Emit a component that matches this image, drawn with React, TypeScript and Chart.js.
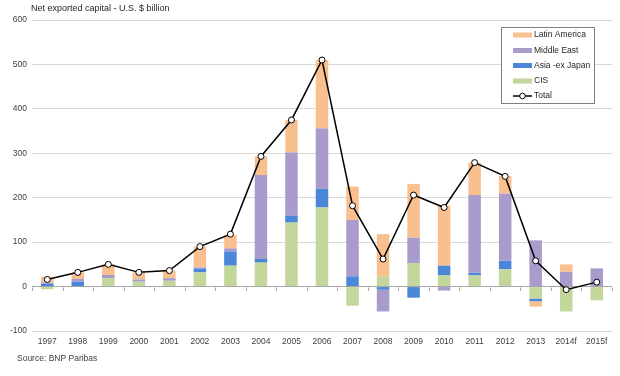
import React, { useEffect, useRef } from "react";
import { Chart, registerables } from "chart.js";

Chart.register(...registerables);

const years = ["1997","1998","1999","2000","2001","2002","2003","2004","2005","2006","2007","2008","2009","2010","2011","2012","2013","2014f","2015f"];
const cis = [-6, 0, 19, 11, 13, 32, 47, 54, 144, 178, -43, 23, 53, 25, 25, 39, -27, -56, -31];
const asiaExJapan = [6, 11, 0, 0, 0, 9, 32, 8, 15, 42, 23, -7, -25, 22, 6, 19, -6, 0, 0];
const middleEast = [3, 6, 7, 5, 6, 2, 7, 189, 143, 136, 127, -49, 57, -9, 175, 151, 104, 33, 41];
const latinAmerica = [13, 15, 24, 16, 17, 47, 30, 42, 73, 154, 75, 95, 121, 135, 73, 40, -12, 17, 0];
const total = [16, 32, 50, 32, 36, 90, 118, 293, 375, 510, 182, 62, 206, 178, 279, 248, 58, -7, 10];
const yTicks = [-100, 0, 100, 200, 300, 400, 500, 600];

const titleText = "Net exported capital - U.S. $ billion";
const sourceText = "Source: BNP Paribas";

const FONT = "'Liberation Sans Narrow', 'Liberation Sans', Arial, sans-serif";

const COLORS = {
  latam: "#F9C08F",
  me: "#A99BCB",
  asia: "#4A87D6",
  cis: "#C3D69B",
};

const overlayPlugin = {
  id: "overlay",
  afterDatasetsDraw(chart: any) {
    const ctx = chart.ctx;
    const x = chart.scales.x;
    const y = chart.scales.y;
    const y0 = y.getPixelForValue(0);
    ctx.save();
    ctx.strokeStyle = "#A6A6A6";
    ctx.lineWidth = 1;
    for (let i = 0; i <= years.length; i++) {
      let px;
      if (i === 0) px = x.left;
      else if (i === years.length) px = x.right;
      else px = (x.getPixelForValue(i - 1) + x.getPixelForValue(i)) / 2;
      px = Math.round(px) + 0.5;
      ctx.beginPath();
      ctx.moveTo(px, Math.round(y0) + 0.5);
      ctx.lineTo(px, Math.round(y0) + 4);
      ctx.stroke();
    }
    ctx.restore();
  },
  afterDraw(chart: any) {
    const ctx = chart.ctx;
    ctx.save();
    ctx.fillStyle = "#262626";
    ctx.font = `9px ${FONT}`;
    ctx.textBaseline = "middle";
    ctx.textAlign = "left";
    ctx.fillText(titleText, 31, 9);
    ctx.fillStyle = "#404040";
    ctx.font = `8.5px ${FONT}`;
    ctx.fillText(sourceText, 17, 359);

    const bx = 501.5, by = 27.5, bw = 93, bh = 76;
    ctx.fillStyle = "#FFFFFF";
    ctx.fillRect(bx, by, bw, bh);
    ctx.strokeStyle = "#7F7F7F";
    ctx.lineWidth = 1;
    ctx.strokeRect(bx, by, bw, bh);
    const ds = chart.data.datasets;
    const order = [3, 2, 1, 0, 4];
    const rowsY = [35, 50.5, 65.5, 81, 96];
    ctx.font = `8.5px ${FONT}`;
    order.forEach((di, r) => {
      const d = ds[di];
      const yy = rowsY[r];
      if (d.type === "line") {
        ctx.strokeStyle = "#000";
        ctx.lineWidth = 1.5;
        ctx.beginPath();
        ctx.moveTo(513, yy);
        ctx.lineTo(532, yy);
        ctx.stroke();
        ctx.beginPath();
        ctx.arc(522.5, yy, 2.8, 0, Math.PI * 2);
        ctx.fillStyle = "#fff";
        ctx.fill();
        ctx.lineWidth = 1;
        ctx.stroke();
      } else {
        ctx.fillStyle = d.backgroundColor;
        ctx.fillRect(513, yy - 2.5, 19, 5);
      }
      ctx.fillStyle = "#262626";
      ctx.fillText(d.label, 534, yy);
    });
    ctx.restore();
  },
};

export default function App() {
  const ref = useRef<HTMLCanvasElement | null>(null);
  useEffect(() => {
    if (!ref.current) return;
    const barBase = { stack: "s", barPercentage: 0.41, categoryPercentage: 1, borderWidth: 0, order: 2 };
    const chart = new Chart(ref.current, {
      type: "bar",
      data: {
        labels: years,
        datasets: [
          { ...barBase, type: "bar", label: "CIS", data: cis, backgroundColor: COLORS.cis },
          { ...barBase, type: "bar", label: "Asia -ex Japan", data: asiaExJapan, backgroundColor: COLORS.asia },
          { ...barBase, type: "bar", label: "Middle East", data: middleEast, backgroundColor: COLORS.me },
          { ...barBase, type: "bar", label: "Latin America", data: latinAmerica, backgroundColor: COLORS.latam },
          {
            type: "line",
            label: "Total",
            data: total,
            stack: "t",
            order: 1,
            borderColor: "#000000",
            borderWidth: 1.5,
            pointRadius: 3,
            pointBorderWidth: 1,
            pointBackgroundColor: "#FFFFFF",
            pointBorderColor: "#000000",
            tension: 0,
          } as any,
        ],
      },
      options: {
        responsive: false,
        animation: false,
        devicePixelRatio: 1,
        layout: { padding: { top: 20, bottom: 27, left: 0, right: 8 } },
        plugins: { legend: { display: false }, tooltip: { enabled: false }, title: { display: false } },
        scales: {
          x: {
            stacked: true,
            grid: { display: false, drawTicks: false },
            border: { display: false },
            ticks: { color: "#404040", font: { size: 8.5, family: FONT }, padding: 6, maxRotation: 0, autoSkip: false },
            afterFit(scale: any) { scale.height = 18; },
          },
          y: {
            stacked: true,
            min: -100,
            max: 600,
            afterBuildTicks(scale: any) { scale.ticks = yTicks.map((v) => ({ value: v })); },
            grid: {
              color: (c: any) => (c.tick && c.tick.value === 0 ? "#A6A6A6" : "#D9D9D9"),
              lineWidth: 1,
              drawTicks: false,
            },
            border: { display: false },
            ticks: { color: "#404040", font: { size: 8.5, family: FONT }, padding: 5 },
            afterFit(scale: any) { scale.width = 32; },
          },
        },
      },
      plugins: [overlayPlugin],
    });
    return () => chart.destroy();
  }, []);
  return (
    <div style={{ position: "absolute", left: 0, top: 0, width: 620, height: 376, background: "#fff" }}>
      <canvas ref={ref} width={620} height={376} style={{ width: 620, height: 376, display: "block" }} />
    </div>
  );
}
